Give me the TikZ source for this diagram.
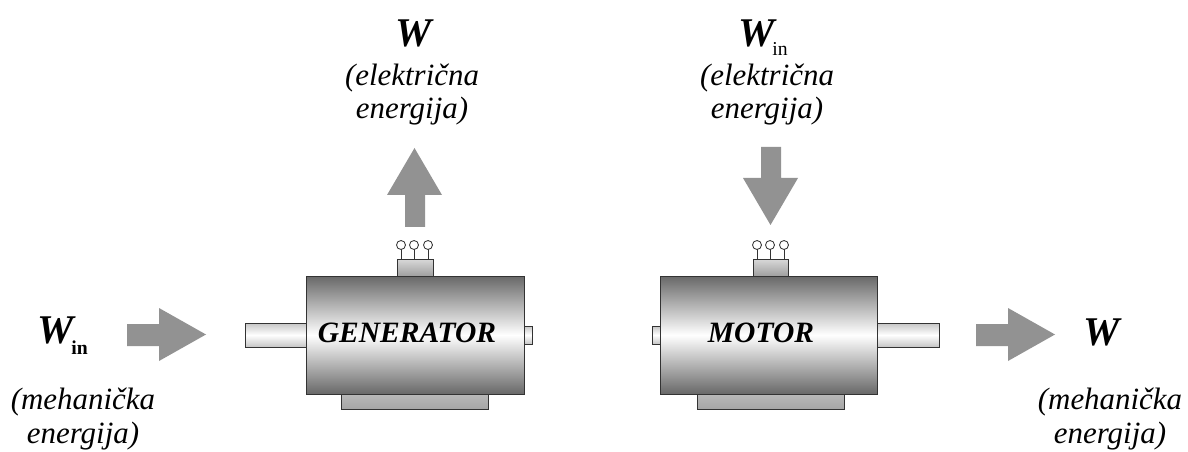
\documentclass[tikz,border=0pt]{standalone}
\usepackage{fontspec}
\setmainfont{Liberation Serif}
\definecolor{arrgray}{RGB}{146,146,146}
\definecolor{bodygray}{RGB}{104,104,104}
\newcommand{\subb}[1]{\kern-1.5pt\raisebox{-8pt}{\fontsize{14}{15}\selectfont\bfseries\upshape #1}}
\newcommand{\subr}[1]{\kern-1.5pt\raisebox{-6pt}{\fontsize{14}{15}\selectfont\mdseries\upshape #1}}
\tikzset{
  lbl/.style={font=\fontsize{22}{24}\selectfont\itshape, align=center, inner sep=0pt, anchor=base},
  bigw/.style={font=\fontsize{29}{30}\selectfont\bfseries\itshape, inner sep=0pt, anchor=base west},
  mname/.style={font=\fontsize{21}{22}\selectfont\bfseries\itshape, inner sep=0pt},
  blockarr/.style={fill=arrgray},
  housing/.style={draw=black!80, thin, top color=bodygray, bottom color=bodygray, middle color=white},
  shaft/.style={draw=black!80, thin, top color=gray!45, bottom color=gray!45, middle color=white},
  tbox/.style={draw=black!80, thin, top color=gray!30, bottom color=gray!75},
  foot/.style={draw=black!80, thin, top color=gray!55, bottom color=gray!70},
  term/.style={draw=black!80, line width=0.6pt, fill=white}
}
\begin{document}
\begin{tikzpicture}[x=0.025cm,y=-0.025cm]
\useasboundingbox (0,0) rectangle (1188,452);
\draw[shaft] (245,323) rectangle (306,347);
\draw[shaft] (524,326) rectangle (532,344);
\draw[foot] (341,394) rectangle (488,409);
\draw[housing] (306,276) rectangle (524,394);
\draw[tbox] (397,259) rectangle (433,276);
\foreach \x in {401,414,428} \draw[black!80,line width=0.6pt] (\x,259) -- (\x,249.5);
\foreach \x in {401,414,428} \draw[term] (\x,245) circle (4.5);
\node[mname] (gen) at (407,333) {GENERATOR};
\draw[shaft] (652,326) rectangle (660,344);
\draw[shaft] (877,323) rectangle (939,347);
\draw[foot] (697,394) rectangle (844,409);
\draw[housing] (660,276) rectangle (877,394);
\draw[tbox] (753,259) rectangle (788,276);
\foreach \x in {757,770,784} \draw[black!80,line width=0.6pt] (\x,259) -- (\x,249.5);
\foreach \x in {757,770,784} \draw[term] (\x,245) circle (4.5);
\node[mname] (mot) at (761,333) {MOTOR};
\foreach \s in {127,976}
  \fill[blockarr] (\s,324) -- (\s+32,324) -- (\s+32,308) -- (\s+79,334.5) -- (\s+32,361) -- (\s+32,346) -- (\s,346) -- cycle;
\fill[blockarr] (405,227) -- (405,195) -- (387,195) -- (414.5,148) -- (442,195) -- (425,195) -- (425,227) -- cycle;
\fill[blockarr] (761,147) -- (781,147) -- (781,178) -- (798,178) -- (770.5,225) -- (743,178) -- (761,178) -- cycle;
\node[bigw] (win) at (37,343) {W\subb{in}};
\node[lbl] (mehin) at (83,443) {(mehanička\\energija)};
\node[bigw] (wout) at (395,47) {W};
\node[lbl] (elout) at (412,119) {(električna\\energija)};
\node[bigw] (wel) at (738,47) {W\subr{in}};
\node[lbl] (elin) at (767,119) {(električna\\energija)};
\node[bigw] (wmeh) at (1083,345) {W};
\node[lbl] (mehout) at (1110,443) {(mehanička\\energija)};
\end{tikzpicture}
\end{document}
